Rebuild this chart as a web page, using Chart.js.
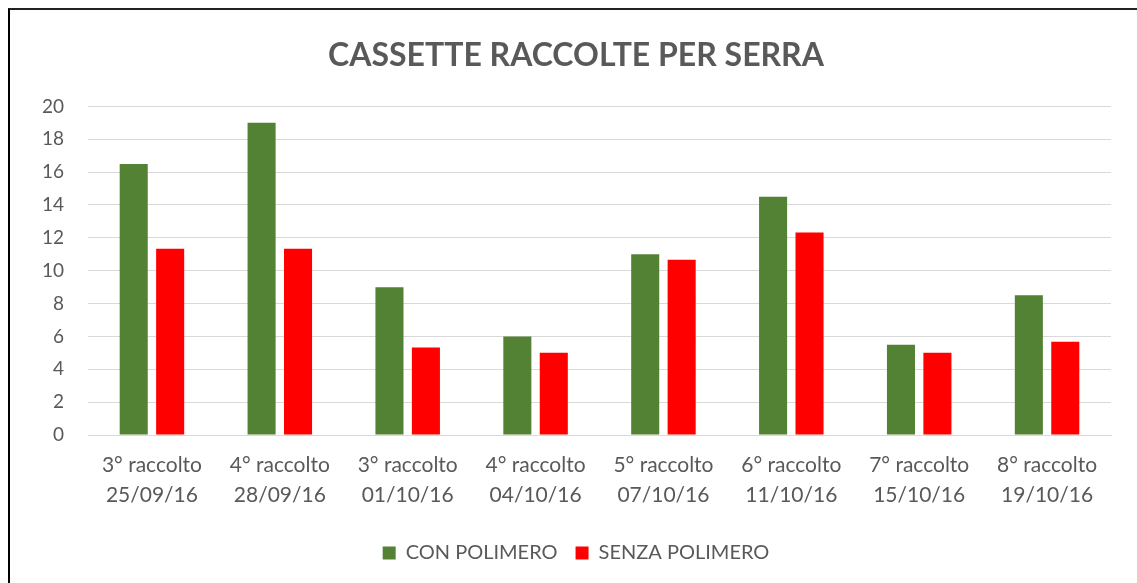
<!DOCTYPE html>
<html>
<head>
<meta charset="utf-8">
<title>Cassette raccolte per serra</title>
<script src="https://cdn.jsdelivr.net/npm/chart.js@4/dist/chart.umd.min.js"></script>
<style>
    html, body { margin: 0; padding: 0; background: #fff; }
    #wrap { position: relative; width: 1137px; height: 583px; }
    #frame {
        position: absolute; left: 8px; top: 8px; right: 0; bottom: 0;
        border-left: 2px solid #000; border-top: 2px solid #222;
        pointer-events: none;
    }
    canvas { display: block; }
</style>
</head>
<body>
<div id="wrap">
    <canvas id="chart" width="1137" height="583"></canvas>
    <div id="frame"></div>
</div>
<script>
// Data
const categories = [
    ['3° raccolto', '25/09/16'],
    ['4° raccolto', '28/09/16'],
    ['3° raccolto', '01/10/16'],
    ['4° raccolto', '04/10/16'],
    ['5° raccolto', '07/10/16'],
    ['6° raccolto', '11/10/16'],
    ['7° raccolto', '15/10/16'],
    ['8° raccolto', '19/10/16']
];
const conPolimero = [16.5, 19, 9, 6, 11, 14.5, 5.5, 8.5];
const senzaPolimero = [11.33, 11.33, 5.33, 5, 10.67, 12.33, 5, 5.67];
const yTicks = [0, 2, 4, 6, 8, 10, 12, 14, 16, 18, 20];

const textColor = '#595959';
const fontFamily = 'Lato, "Open Sans", sans-serif';

const ctx = document.getElementById('chart').getContext('2d');
new Chart(ctx, {
    type: 'bar',
    data: {
        labels: categories,
        datasets: [
            {
                label: 'CON POLIMERO',
                data: conPolimero,
                backgroundColor: '#548235',
                categoryPercentage: 0.57,
                barPercentage: 0.77
            },
            {
                label: 'SENZA POLIMERO',
                data: senzaPolimero,
                backgroundColor: '#ff0000',
                categoryPercentage: 0.57,
                barPercentage: 0.77
            }
        ]
    },
    options: {
        responsive: false,
        animation: false,
        layout: { padding: { left: 41, right: 26, top: 0, bottom: 10 } },
        plugins: {
            title: {
                display: true,
                text: 'CASSETTE RACCOLTE PER SERRA',
                color: textColor,
                font: { family: fontFamily, size: 32, weight: 'bold', lineHeight: 1.2 },
                padding: { top: 36, bottom: 32 }
            },
            legend: {
                position: 'bottom',
                labels: {
                    color: textColor,
                    font: { family: fontFamily, size: 20 },
                    boxWidth: 13,
                    boxHeight: 13,
                    padding: 18
                }
            },
            tooltip: { enabled: false }
        },
        scales: {
            y: {
                min: 0,
                max: 20,
                afterBuildTicks: scale => { scale.ticks = yTicks.map(v => ({ value: v })); },
                afterFit: scale => { scale.width = 47; },
                grid: { color: '#d9d9d9', drawTicks: false },
                border: { display: false },
                ticks: {
                    color: textColor,
                    font: { family: fontFamily, size: 19 },
                    padding: 24
                }
            },
            x: {
                afterFit: scale => { scale.height = 90; },
                grid: { display: false, drawTicks: false },
                border: { color: '#d9d9d9', width: 1 },
                ticks: {
                    color: textColor,
                    font: { family: fontFamily, size: 21, lineHeight: 1.4 },
                    padding: 16,
                    maxRotation: 0,
                    autoSkip: false
                }
            }
        }
    }
});
</script>
</body>
</html>
